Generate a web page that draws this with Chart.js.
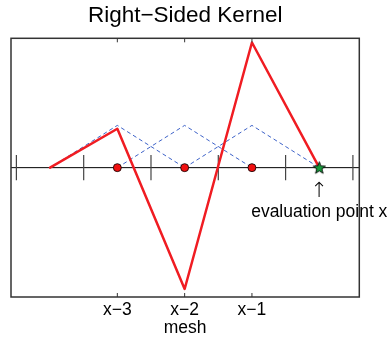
<!DOCTYPE html>
<html>
<head>
<meta charset="utf-8">
<script src="https://cdn.jsdelivr.net/npm/chart.js@4/dist/chart.umd.min.js"></script>
<style>
html,body{margin:0;padding:0;background:#fff;}
canvas{display:block;}
</style>
</head>
<body>
<canvas id="c" width="392" height="341"></canvas>
<script>
// ---- data ----
const meshX = [-3, -2, -1];
const meshLabels = ['x\u22123', 'x\u22122', 'x\u22121'];
const kernelX = [-4, -3, -2, -1, 0];
const kernelY = [0, 0.92, -2.87, 2.96, 0];
const hatCenters = [-3, -2, -1];
const hatHeight = 1;
const minorTickX = [-4.5, -3.5, -2.5, -1.5, -0.5, 0.5];
const evalX = 0;
const xMin = -4.58, xMax = 0.595;
const yMin = -3.06, yMax = 3.06;
const titleText = 'Right\u2212Sided Kernel';
const xTitle = 'mesh';
const evalLabel = 'evaluation point x';

const FONT = "'Liberation Sans', Arial, Helvetica, sans-serif";

// star point style
function makeStar(){
  const s = 15, c = document.createElement('canvas');
  c.width = s; c.height = s;
  const g = c.getContext('2d');
  const cx = s/2, cy = s/2 + 0.5, R = 6.4, r = 2.7;
  g.beginPath();
  for (let i = 0; i < 10; i++) {
    const a = -Math.PI/2 + i*Math.PI/5;
    const rr = i % 2 === 0 ? R : r;
    const px = cx + rr*Math.cos(a), py = cy + rr*Math.sin(a);
    if (i === 0) g.moveTo(px, py); else g.lineTo(px, py);
  }
  g.closePath();
  g.fillStyle = '#169b3a';
  g.fill();
  g.lineWidth = 0.9;
  g.strokeStyle = '#000';
  g.stroke();
  return c;
}

// datasets
const axisLine = [{x: xMin, y: 0}, {x: xMax, y: 0}];
const tickHalf = 0.3;
const tickData = [];
minorTickX.forEach(t => {
  tickData.push({x: t, y: -tickHalf});
  tickData.push({x: t, y: tickHalf});
  tickData.push({x: t, y: null});
});
const hatData = [];
hatCenters.forEach(c => {
  hatData.push({x: c - 1, y: 0});
  hatData.push({x: c, y: hatHeight});
  hatData.push({x: c + 1, y: 0});
  hatData.push({x: c + 1, y: null});
});
const kernelData = kernelX.map((x, i) => ({x, y: kernelY[i]}));
const meshData = meshX.map(x => ({x, y: 0}));
const evalData = [{x: evalX, y: 0}];

const overlay = {
  id: 'overlay',
  afterDraw(chart) {
    const ctx = chart.ctx, xs = chart.scales.x, ys = chart.scales.y;
    const a = chart.chartArea;
    const px = xs.getPixelForValue(evalX);
    ctx.save();
    ctx.fillStyle = '#000';
    ctx.textAlign = 'center';
    ctx.textBaseline = 'middle';
    ctx.font = "200 21px 'DejaVu Sans', sans-serif";
    ctx.fillText('\u2191', px, ys.getPixelForValue(-0.57));
    ctx.font = '17.5px ' + FONT;
    ctx.textBaseline = 'alphabetic';
    ctx.fillText(evalLabel, px, ys.getPixelForValue(-1.17));
    // frame
    ctx.strokeStyle = '#333';
    ctx.lineWidth = 1.5;
    ctx.strokeRect(a.left, a.top, a.right - a.left, a.bottom - a.top);
    // inner ticks at mesh positions
    ctx.lineWidth = 1;
    meshX.forEach(v => {
      const p = xs.getPixelForValue(v);
      ctx.beginPath();
      ctx.moveTo(p, a.top); ctx.lineTo(p, a.top + 4);
      ctx.moveTo(p, a.bottom); ctx.lineTo(p, a.bottom - 4);
      ctx.stroke();
    });
    ctx.restore();
  }
};

new Chart(document.getElementById('c'), {
  type: 'scatter',
  data: {
    datasets: [
      {data: evalData, order: 0, showLine: false, pointStyle: makeStar(), pointRadius: 7, pointHoverRadius: 7},
      {data: meshData, order: 1, showLine: false, pointRadius: 4, backgroundColor: '#f01010', borderColor: '#000', borderWidth: 0.8},
      {data: kernelData, order: 2, showLine: true, borderColor: '#f01c22', borderWidth: 2.5, pointRadius: 0, tension: 0, borderJoinStyle: 'round', borderCapStyle: 'round'},
      {data: hatData, order: 3, showLine: true, spanGaps: false, borderColor: '#3d62c8', borderWidth: 1, borderDash: [4, 3], pointRadius: 0},
      {data: tickData, order: 4, showLine: true, spanGaps: false, borderColor: '#444', borderWidth: 1.2, pointRadius: 0},
      {data: axisLine, order: 5, showLine: true, borderColor: '#000', borderWidth: 1, pointRadius: 0}
    ]
  },
  options: {
    responsive: false,
    animation: false,
    devicePixelRatio: 1,
    layout: {padding: {left: 11, right: 32.7, top: 0, bottom: 0}},
    plugins: {
      legend: {display: false},
      tooltip: {enabled: false},
      title: {
        display: true, text: titleText, color: '#000',
        font: {family: FONT, size: 22.5, weight: 'normal'},
        padding: {top: 2, bottom: 9.3}
      }
    },
    scales: {
      x: {
        type: 'linear', min: xMin, max: xMax,
        grid: {display: false, drawTicks: false},
        border: {display: false},
        afterBuildTicks: s => { s.ticks = meshX.map(v => ({value: v})); },
        afterFit: s => { s.height = 44; },
        ticks: {
          autoSkip: false, maxRotation: 0, padding: 3, color: '#000',
          font: {family: FONT, size: 17.5},
          callback: (v) => { const i = meshX.indexOf(v); return i >= 0 ? meshLabels[i] : ''; }
        },
        title: {display: true, text: xTitle, color: '#000', font: {family: FONT, size: 17.5}, padding: {top: 0, bottom: 2.6}}
      },
      y: {type: 'linear', min: yMin, max: yMax, display: false}
    }
  },
  plugins: [overlay]
});
</script>
</body>
</html>
